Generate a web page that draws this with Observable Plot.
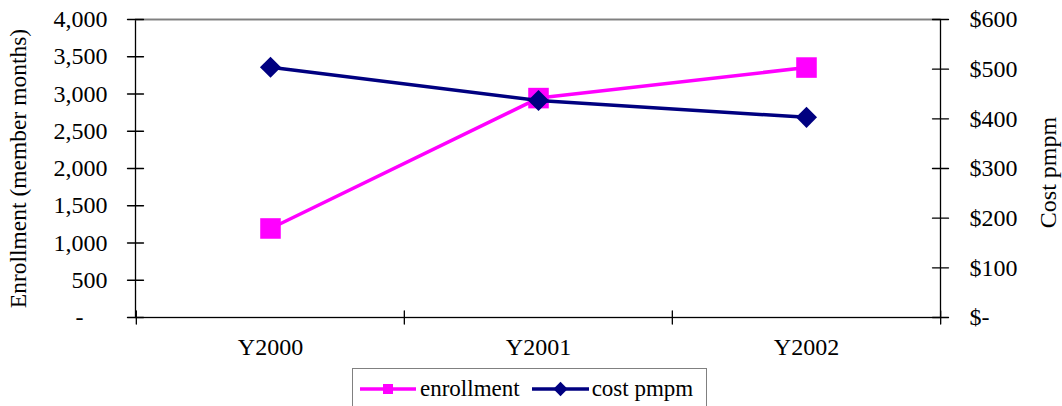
<!DOCTYPE html>
<html><head><meta charset="utf-8">
<script src="https://cdn.jsdelivr.net/npm/d3@7"></script>
<script src="https://cdn.jsdelivr.net/npm/@observablehq/plot@0.6"></script>
<style>
body{margin:0;background:#fff;font-family:"Liberation Serif","Times New Roman",serif;}
#chart{position:absolute;left:0;top:0;}
#chart svg, #chart text{font-family:"Liberation Serif","Times New Roman",serif !important;}
#legend{position:absolute;left:352px;top:368px;width:355px;height:60px;border:1px solid #808080;box-sizing:border-box;display:flex;align-items:flex-start;padding-left:7px;padding-top:9px;font-size:23px;color:#000;background:#fff;}
#legend .item{display:flex;align-items:center;height:22px;}
#legend svg{display:block;}
</style></head><body><div id="chart"></div><div id="legend"></div>
<script>
const years = ["Y2000", "Y2001", "Y2002"];
const enrollment = [1195, 2945, 3355];
const costPmpm = [504, 437, 403];
const enrollTicks = [0, 500, 1000, 1500, 2000, 2500, 3000, 3500, 4000];
const costTicks = [0, 100, 200, 300, 400, 500, 600];
const seriesNames = ["enrollment", "cost pmpm"];
const seriesColors = ["#ff00ff", "#000080"];
const seriesSymbols = ["square", "diamond2"];
const leftTitle = "Enrollment (member months)";
const rightTitle = "Cost pmpm";

const W = 1062, H = 366, mL = 135, mR = 122, mT = 19, mB = 49;
const bw = (W - mL - mR) / years.length;
const k = 4000 / 600;
const fontFamily = '"Liberation Serif","Times New Roman",serif';
const tickLine = {draw(ctx, l) { ctx.moveTo(0, 0); ctx.lineTo(0, -l); }};

const enrollData = years.map((y, i) => ({year: y, v: enrollment[i]}));
const costData = years.map((y, i) => ({year: y, v: costPmpm[i] * k}));
const fmtN = d3.format(",");
const leftFmt = v => v === 0 ? "-\u2002\u2002" : fmtN(v);
const rightFmt = v => v === 0 ? "$-" : "$" + fmtN(v);

const chart = Plot.plot({
  width: W, height: H,
  marginLeft: mL, marginRight: mR, marginTop: mT, marginBottom: mB,
  style: {fontFamily, fontSize: "24px", color: "#000", background: "#fff", overflow: "visible"},
  x: {type: "band", domain: years, padding: 0},
  y: {domain: [0, 4000]},
  marks: [
    Plot.frame({stroke: "#000", strokeWidth: 1.3}),
    Plot.ruleY([4000], {stroke: "#808080", strokeWidth: 1.3}),
    Plot.vector(enrollTicks, {y: d => d, frameAnchor: "left", length: 16, rotate: 90, anchor: "middle", shape: tickLine, stroke: "#000", strokeWidth: 1.3}),
    Plot.vector(costTicks, {y: d => d * k, frameAnchor: "right", length: 16, rotate: 90, anchor: "middle", shape: tickLine, stroke: "#000", strokeWidth: 1.3}),
    Plot.vector(years, {x: d => d, dx: -bw / 2, frameAnchor: "bottom", length: 13, rotate: 0, anchor: "middle", shape: tickLine, stroke: "#000", strokeWidth: 1.3}),
    Plot.vector([years[years.length - 1]], {x: d => d, dx: bw / 2, frameAnchor: "bottom", length: 13, rotate: 0, anchor: "middle", shape: tickLine, stroke: "#000", strokeWidth: 1.3}),
    Plot.axisY(enrollTicks, {anchor: "left", tickSize: 0, tickPadding: 28, tickFormat: leftFmt, label: null, fontSize: 24}),
    Plot.axisY(costTicks.map(v => v * k), {anchor: "right", tickSize: 0, tickPadding: 29, tickFormat: v => rightFmt(Math.round(v / k)), label: null, fontSize: 24}),
    Plot.axisX({anchor: "bottom", tickSize: 0, tickPadding: 20, label: null, fontSize: 24}),
    Plot.text([leftTitle], {text: d => d, frameAnchor: "left", textAnchor: "middle", rotate: -90, dx: -117, fill: "#000", fontSize: 23.5}),
    Plot.text([rightTitle], {text: d => d, frameAnchor: "right", textAnchor: "middle", rotate: -90, dx: 108, dy: 4, fill: "#000", fontSize: 24}),
    Plot.line(enrollData, {x: "year", y: "v", stroke: seriesColors[0], strokeWidth: 3.5}),
    Plot.dot(enrollData, {x: "year", y: "v", symbol: seriesSymbols[0], r: 11.6, fill: seriesColors[0], stroke: "none"}),
    Plot.line(costData, {x: "year", y: "v", stroke: seriesColors[1], strokeWidth: 3.5}),
    Plot.dot(costData, {x: "year", y: "v", symbol: seriesSymbols[1], r: 9.5, fill: seriesColors[1], stroke: "none"})
  ]
});
document.getElementById("chart").appendChild(chart);

// legend
const legend = d3.select("#legend");
const symMap = {square: d3.symbolSquare, diamond2: d3.symbolDiamond2};
const swW = [56, 57], gapsBefore = [0, 12], gapsAfter = [4, 3], symSizes = [100, 130];
seriesNames.forEach((name, i) => {
  const item = legend.append("div").attr("class", "item").style("margin-left", gapsBefore[i] + "px");
  const svg = item.append("svg").attr("width", swW[i]).attr("height", 22);
  svg.append("line").attr("x1", 0).attr("x2", swW[i]).attr("y1", 11).attr("y2", 11)
    .attr("stroke", seriesColors[i]).attr("stroke-width", 3.5);
  svg.append("path").attr("transform", `translate(${swW[i] / 2},11)`)
    .attr("d", d3.symbol(symMap[seriesSymbols[i]], symSizes[i])()).attr("fill", seriesColors[i]);
  item.append("span").style("margin-left", gapsAfter[i] + "px").text(name);
});
</script>
</body></html>
